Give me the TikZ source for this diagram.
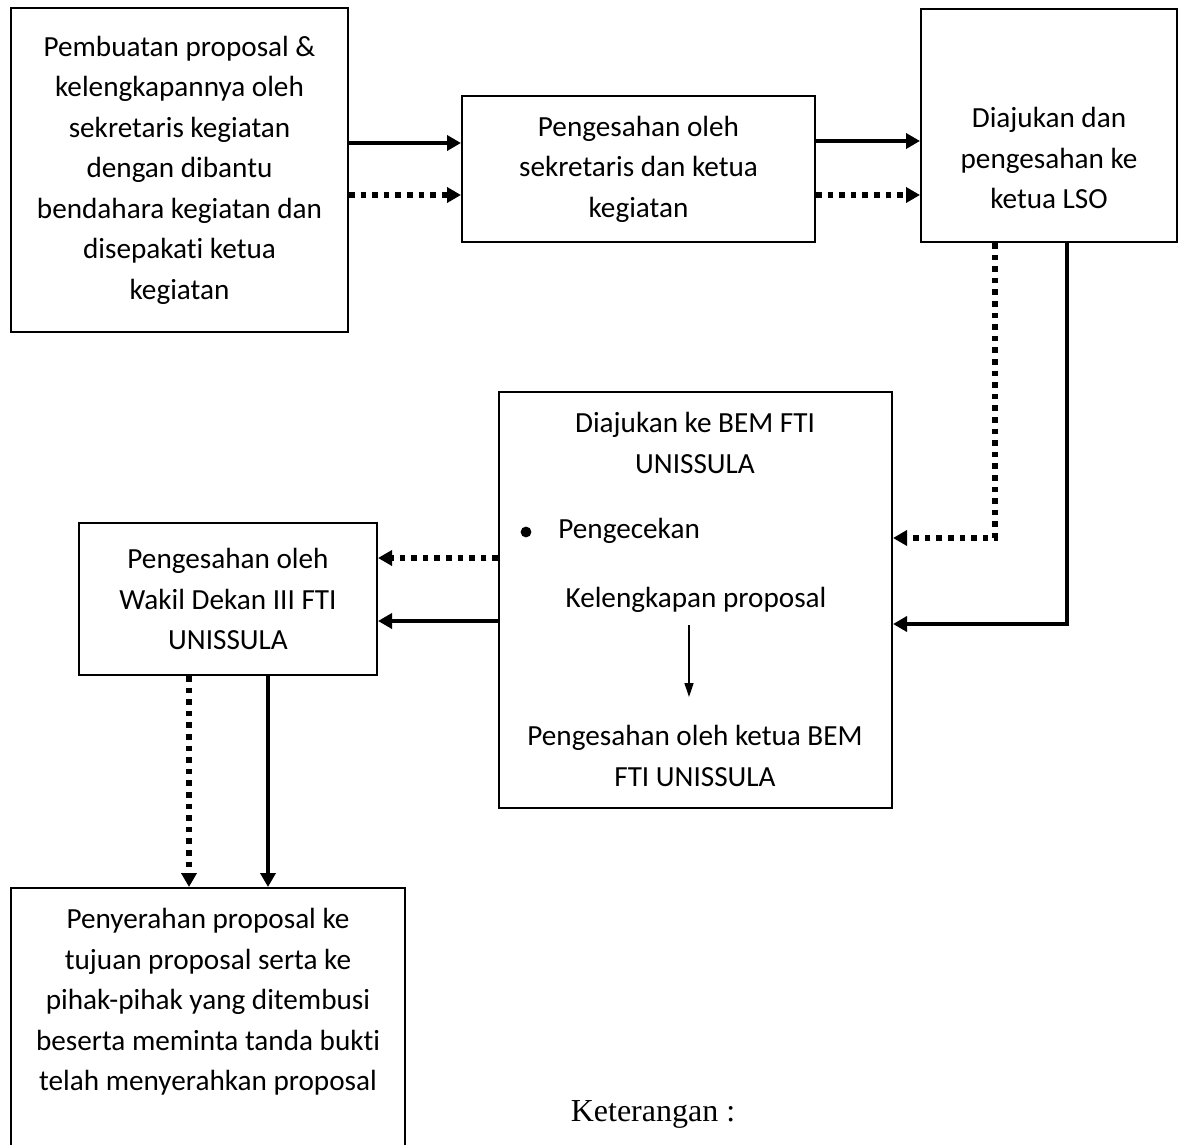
\documentclass[tikz,border=0pt]{standalone}
\usepackage{fontspec}
\setmainfont{Carlito}[RawFeature={-liga;-clig;-dlig;-calt}]
\newfontfamily\timesfont{Liberation Serif}
\usetikzlibrary{arrows.meta, positioning, calc}

\begin{document}
\begin{tikzpicture}[x=0.5pt, y=-0.5pt,
        kotak/.style={draw, line width=1pt, inner sep=0pt},
        teks/.style={align=center, font=\fontsize{14.6}{20.25}\selectfont},
        panah/.style={line width=2.2pt, -{Triangle[length=7pt, width=7.5pt]}},
        panahtitik/.style={panah, line width=2.8pt, dash pattern=on 2.8pt off 3pt},
        panahkecil/.style={line width=0.7pt, -{Triangle[length=7pt, width=4.5pt]}}]
            \useasboundingbox (0,0) rectangle (1186,1144);
            \clip (0,0) rectangle (1186,1144);
            \node[kotak, teks, minimum width=168.5pt, minimum height=162pt] (proposal) at (179.5,170) {Pembuatan proposal \&\\kelengkapannya oleh\\sekretaris kegiatan\\dengan dibantu\\bendahara kegiatan dan\\disepakati ketua\\kegiatan};
            \node[kotak, teks, minimum width=176.5pt, minimum height=73pt] (sah) at (638.5,169) {Pengesahan oleh\\sekretaris dan ketua\\kegiatan};
            \node[kotak, minimum width=128pt, minimum height=116.5pt] (lso) at (1049,125.5) {};
            \node[teks] (tekslso) at (1049,158) {Diajukan dan\\pengesahan ke\\ketua LSO};
            \node[kotak, minimum width=196.5pt, minimum height=208pt] (bem) at (695.5,600) {};
            \node[teks] (judulbem) at (695,443) {Diajukan ke BEM FTI\\UNISSULA};
            \fill (526,532) circle (2.7pt);
            \node[teks, anchor=west, inner xsep=0pt] (cek) at (558,531) {Pengecekan};
            \node[teks, inner ysep=6pt] (lengkap) at (696,600) {Kelengkapan proposal};
            \node[teks] (sahbem) at (695,756) {Pengesahan oleh ketua BEM\\FTI UNISSULA};
            \coordinate (ujung) at (689,697);
            \node[kotak, teks, minimum width=149pt, minimum height=76pt] (wakil) at (228,599) {Pengesahan oleh\\Wakil Dekan III FTI\\UNISSULA};
            \node[kotak, minimum width=197pt, minimum height=140pt] (serah) at (208,1028) {};
            \node[teks] (teksserah) at (208,1002) {Penyerahan proposal ke\\tujuan proposal serta ke\\pihak-pihak yang ditembusi\\beserta meminta tanda bukti\\telah menyerahkan proposal};
            \node[font=\timesfont\fontsize{16}{19}\selectfont] (ket) at (653,1114) {Keterangan :};
            \draw[panah] (proposal.east |- 0,143) -- (sah.west |- 0,143);
            \draw[panahtitik] (proposal.east |- 0,195) -- (sah.west |- 0,195);
            \draw[panah] (sah.east |- 0,141) -- (lso.west |- 0,141);
            \draw[panahtitik] (sah.east |- 0,195) -- (lso.west |- 0,195);
            \draw[panahtitik] (lso.south -| 995,0) |- (bem.east |- 0,538);
            \draw[panah] (lso.south -| 1067,0) |- (bem.east |- 0,624);
            \draw[panahkecil] (lengkap.south -| ujung) -- (ujung);
            \draw[panahtitik] (bem.west |- 0,558) -- (wakil.east |- 0,558);
            \draw[panah] (bem.west |- 0,621) -- (wakil.east |- 0,621);
            \draw[panahtitik] (wakil.south -| 189,0) -- (serah.north -| 189,0);
            \draw[panah] (wakil.south -| 268,0) -- (serah.north -| 268,0);
        \end{tikzpicture}
\end{document}
